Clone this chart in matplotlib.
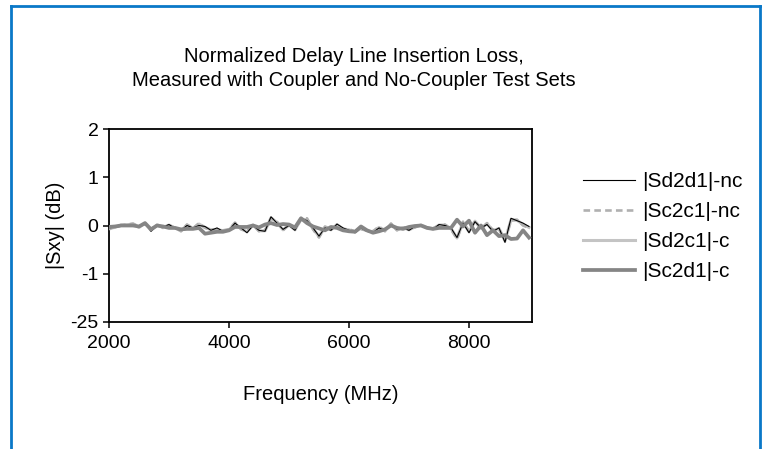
import matplotlib
matplotlib.use("Agg")
import matplotlib.pyplot as plt
from matplotlib.lines import Line2D
import numpy as np

plt.rcParams["font.family"] = ["Liberation Sans", "DejaVu Sans"]

# Frequency grid (MHz)
freq = np.arange(2000, 9001, 100)

sd2d1_nc = [
    -0.05, -0.03, -0.02, 0.00, 0.02, -0.03, 0.06, -0.12, 0.00, -0.03,
    0.02, -0.06, -0.10, 0.00, -0.05, 0.00, -0.02, -0.10, -0.05, -0.12,
    -0.10, 0.05, -0.05, -0.15, 0.00, -0.10, -0.12, 0.18, 0.05, -0.08,
    0.00, -0.10, 0.15, 0.10, -0.05, -0.22, -0.05, -0.10, 0.03, -0.05,
    -0.10, -0.15, -0.05, -0.12, -0.15, -0.05, -0.10, 0.02, -0.08, -0.05,
    -0.10, -0.02, 0.00, -0.03, -0.08, 0.02, 0.00, -0.05, -0.25, 0.05,
    -0.15, 0.08, -0.05, 0.02, -0.12, -0.05, -0.35, 0.15, 0.10, 0.05,
    -0.02,
]
sc2c1_nc = [
    -0.08, -0.02, 0.00, 0.02, 0.04, -0.02, 0.03, -0.08, 0.02, -0.05,
    0.00, -0.04, -0.12, 0.02, -0.06, 0.05, -0.05, -0.08, -0.10, -0.10,
    -0.08, 0.06, -0.08, -0.12, 0.02, -0.12, -0.10, 0.15, 0.08, -0.10,
    0.02, -0.08, 0.12, 0.15, -0.08, -0.25, -0.02, -0.08, 0.00, -0.08,
    -0.08, -0.12, -0.08, -0.10, -0.12, -0.02, -0.12, 0.04, -0.10, -0.03,
    -0.08, -0.04, 0.02, -0.05, -0.06, 0.00, 0.02, -0.08, -0.28, 0.08,
    -0.12, 0.10, -0.08, 0.05, -0.10, -0.08, -0.30, 0.10, 0.12, 0.00,
    -0.05,
]
sd2c1_c = [
    -0.06, -0.04, 0.01, 0.01, 0.03, -0.04, 0.05, -0.10, 0.01, -0.04,
    0.01, -0.05, -0.11, 0.01, -0.06, 0.03, -0.04, -0.09, -0.08, -0.11,
    -0.09, 0.04, -0.06, -0.13, 0.01, -0.11, -0.11, 0.16, 0.06, -0.09,
    0.01, -0.09, 0.13, 0.12, -0.06, -0.23, -0.04, -0.09, 0.02, -0.07,
    -0.09, -0.13, -0.06, -0.11, -0.13, -0.04, -0.11, 0.03, -0.09, -0.04,
    -0.09, -0.03, 0.01, -0.04, -0.07, 0.01, 0.01, -0.06, -0.26, 0.06,
    -0.13, 0.09, -0.06, 0.04, -0.11, -0.06, -0.32, 0.12, 0.11, 0.02,
    -0.04,
]
sc2d1_c = [
    -0.03, -0.02, 0.00, 0.00, 0.00, -0.02, 0.05, -0.08, 0.00, -0.02,
    -0.05, -0.05, -0.08, -0.07, -0.07, -0.05, -0.17, -0.15, -0.13, -0.13,
    -0.10, -0.03, -0.03, -0.03, 0.00, -0.04, 0.02, 0.05, 0.01, 0.03,
    0.02, -0.04, 0.15, 0.05, -0.02, -0.06, -0.10, -0.03, -0.05, -0.10,
    -0.12, -0.13, -0.02, -0.10, -0.15, -0.12, -0.08, 0.00, -0.05, -0.07,
    -0.03, -0.01, 0.00, -0.05, -0.07, -0.05, -0.05, -0.05, 0.12, -0.02,
    0.10, -0.15, 0.00, -0.20, -0.10, -0.22, -0.20, -0.28, -0.27, -0.10,
    -0.25,
]

series_labels = ["|Sd2d1|-nc", "|Sc2c1|-nc", "|Sd2c1|-c", "|Sc2d1|-c"]
y_ticks = [-2, -1, 0, 1, 2]
y_tick_labels = ["-25", "-1", "0", "1", "2"]
x_ticks = [2000, 4000, 6000, 8000]

W, H = 763, 449
fig = plt.figure(figsize=(W / 100, H / 100), dpi=100)
ax = fig.add_axes([109 / W, 1 - 322 / H, (532 - 109) / W, (322 - 129) / H])

# --- Lines ---
l_sd2c1, = ax.plot(freq, sd2c1_c, color="#c4c4c4", lw=2.2, zorder=2)
l_sc2c1, = ax.plot(freq, sc2c1_nc, color="#b0b0b0", lw=1.9,
                   linestyle=(0, (2.5, 1.6)), zorder=3)
l_sd2d1, = ax.plot(freq, sd2d1_nc, color="black", lw=0.8, zorder=4)
l_sc2d1, = ax.plot(freq, sc2d1_c, color="#858585", lw=2.7, zorder=5)

ax.set_xlim(2000, 9050)
ax.set_ylim(-2, 2)
ax.set_xticks(x_ticks)
ax.set_yticks(y_ticks)
ax.set_yticklabels(y_tick_labels)
ax.tick_params(direction="out", length=4, width=1.1, labelsize=14, colors="black")
ax.tick_params(axis="x", pad=5)
for sp in ax.spines.values():
    sp.set_linewidth(1.3)

ax.set_xlabel("Frequency (MHz)", fontsize=14.5, labelpad=24)
ax.set_ylabel("|Sxy| (dB)", fontsize=14.5, labelpad=4)

fig.text(354 / W, 1 - 57 / H, "Normalized Delay Line Insertion Loss,",
         ha="center", va="center", fontsize=14.5)
fig.text(354 / W, 1 - 80 / H, "Measured with Coupler and No-Coupler Test Sets",
         ha="center", va="center", fontsize=14.5)

fig.legend([l_sd2d1, l_sc2c1, l_sd2c1, l_sc2d1], series_labels,
           loc="upper left", bbox_to_anchor=(583 / W, 1 - 172 / H),
           frameon=False, fontsize=15, handlelength=2.5, handletextpad=0.34,
           labelspacing=0.53, borderpad=0, borderaxespad=0)

# --- Blue frame (open at bottom) ---
frame_col = "#0a78c8"
fig.add_artist(Line2D([11 / W, 11 / W], [0, 1 - 6 / H], color=frame_col, lw=2.0,
                      transform=fig.transFigure))
fig.add_artist(Line2D([760 / W, 760 / W], [0, 1 - 6 / H], color=frame_col, lw=2.0,
                      transform=fig.transFigure))
fig.add_artist(Line2D([11 / W, 760 / W], [1 - 6 / H, 1 - 6 / H], color=frame_col,
                      lw=2.0, transform=fig.transFigure))

fig.savefig("out.png", dpi=100)
